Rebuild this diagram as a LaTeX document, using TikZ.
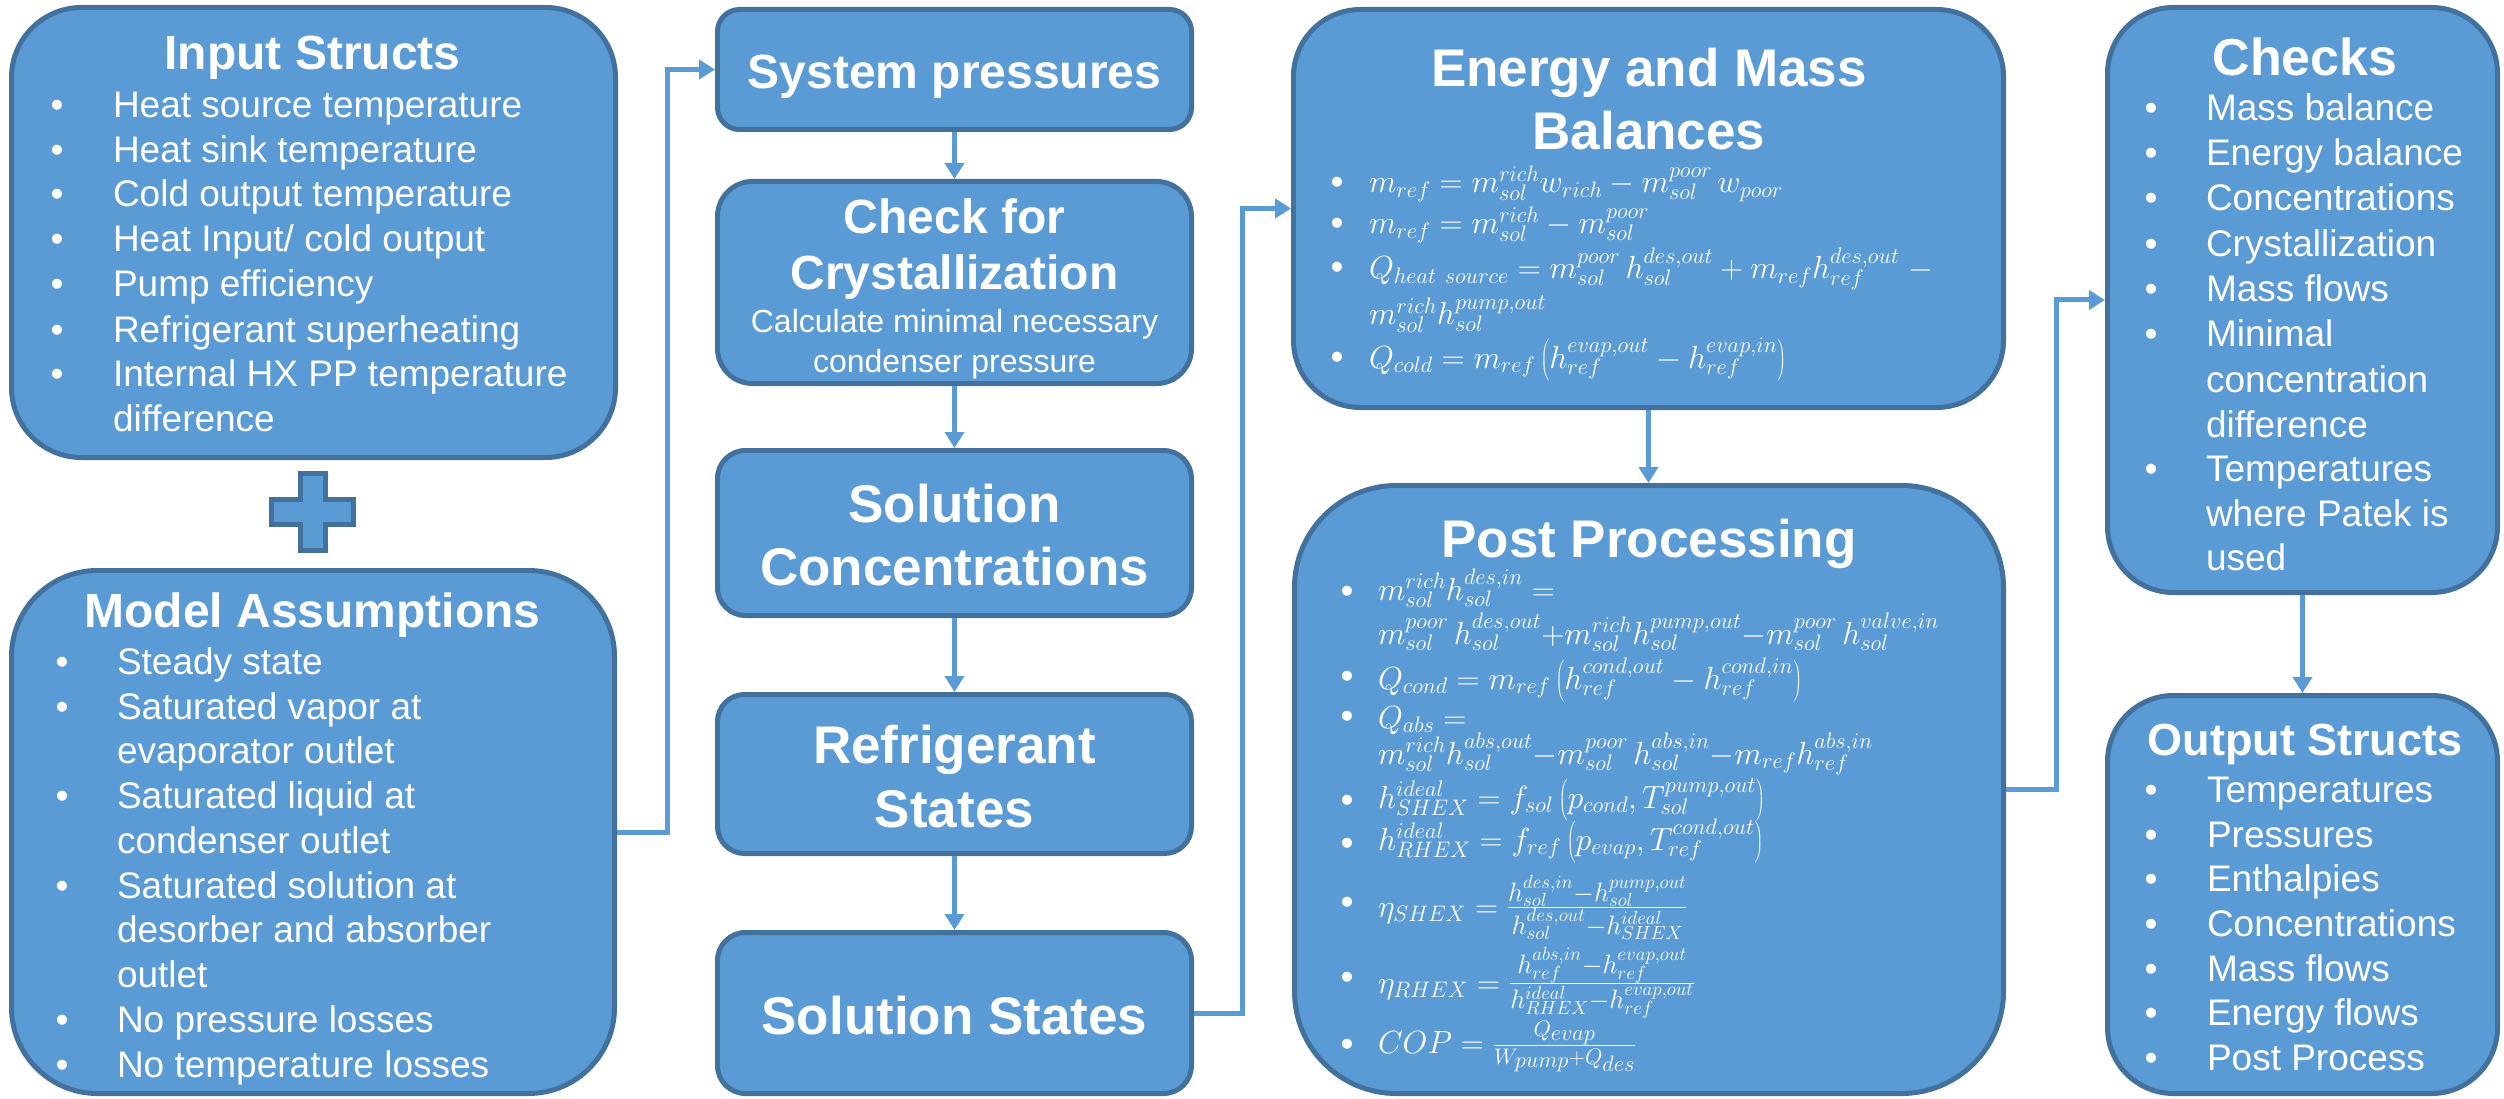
\RequirePackage{fix-cm}
\documentclass[tikz,border=0pt]{standalone}
\usepackage[no-math]{fontspec}
\setmainfont{Liberation Sans}
\usetikzlibrary{arrows.meta}
\definecolor{boxfill}{HTML}{5B9BD5}
\definecolor{boxline}{HTML}{41719C}
\definecolor{connblue}{HTML}{5B9BD5}
\newcommand{\fs}[1]{{\scriptstyle #1}}
\newcommand{\bigfrac}[2]{\mbox{\fontsize{38}{46}\selectfont$\frac{#1}{#2}$}}
\begin{document}
\begin{tikzpicture}[x=1pt,y=-1pt,
  box/.style={draw=boxline, fill=boxfill, line width=5pt, inner sep=0pt, outer sep=2.5pt, rectangle},
  txt/.style={text=white, inner sep=0pt, outer sep=0pt, anchor=base west, font=\fontsize{37}{44}\selectfont},
  bul/.style={text=white, inner sep=0pt, outer sep=0pt, anchor=base, font=\fontsize{37}{44}\selectfont},
  ttl/.style={text=white, inner sep=0pt, outer sep=0pt, anchor=base, font=\bfseries\fontsize{48}{58}\selectfont},
  bigttl/.style={text=white, inner sep=0pt, outer sep=0pt, anchor=base, font=\bfseries\fontsize{53}{64}\selectfont},
  subt/.style={text=white, inner sep=0pt, outer sep=0pt, anchor=base, font=\fontsize{32}{38}\selectfont},
  mth/.style={text=white, inner sep=0pt, outer sep=0pt, anchor=base west, font=\fontsize{32}{38}\selectfont},
  conn/.style={draw=connblue, line width=5pt, -{Triangle[length=16pt,width=19pt]}},
]
\fill[white] (0,0) rectangle (2504,1099);
\useasboundingbox (0,0) rectangle (2504,1099);

% ---------- boxes ----------
\node[box, minimum width=604pt, minimum height=450pt, rounded corners=70pt] (input) at (313.5,232.5) {};
\node[box, minimum width=603pt, minimum height=523pt, rounded corners=86pt] (model) at (313,832) {};
\node[box, minimum width=474pt, minimum height=120pt, rounded corners=22pt] (sys) at (954.5,69.5) {};
\node[box, minimum width=474pt, minimum height=202pt, rounded corners=35pt] (check) at (954.5,282.5) {};
\node[box, minimum width=474pt, minimum height=165pt, rounded corners=28pt] (conc) at (954.5,533) {};
\node[box, minimum width=474pt, minimum height=159pt, rounded corners=27pt] (refr) at (954.5,774) {};
\node[box, minimum width=474pt, minimum height=161pt, rounded corners=28pt] (sols) at (954.5,1013) {};
\node[box, minimum width=710pt, minimum height=398pt, rounded corners=67pt] (energy) at (1648.5,208.5) {};
\node[box, minimum width=709pt, minimum height=608pt, rounded corners=102pt] (post) at (1649,789.5) {};
\node[box, minimum width=390pt, minimum height=585pt, rounded corners=66pt] (checks) at (2302.5,300) {};
\node[box, minimum width=390pt, minimum height=398pt, rounded corners=66pt] (output) at (2302.5,894.5) {};

% ---------- plus sign ----------
\draw[draw=boxline, fill=boxfill, line width=5pt]
  (300.5,473.5) -- (325.5,473.5) -- (325.5,499.5) -- (353.5,499.5) -- (353.5,524.5)
  -- (325.5,524.5) -- (325.5,550.5) -- (300.5,550.5) -- (300.5,524.5) -- (271.5,524.5)
  -- (271.5,499.5) -- (300.5,499.5) -- cycle;

% ---------- connectors ----------
\draw[conn] (model.east) -- ++(50,0) |- (sys.west);
\draw[conn] (sys.south) -- (check.north);
\draw[conn] (check.south) -- (conc.north);
\draw[conn] (conc.south) -- (refr.north);
\draw[conn] (refr.south) -- (sols.north);
\draw[conn] (sols.east) -- ++(48.5,0) |- (energy.west);
\draw[conn] (energy.south) -- (energy.south |- post.north);
\draw[conn] (post.east) -- ++(50,0) |- (checks.west);
\draw[conn] (checks.south) -- (output.north);

% ---------- Input Structs ----------
\node[ttl] (inT) at (312.5,70) {Input Structs};
\node[bul] (inB1) at (57,118) {•}; \node[txt] (in1) at (113,118) {Heat source temperature};
\node[bul] (inB2) at (57,163) {•}; \node[txt] (in2) at (113,163) {Heat sink temperature};
\node[bul] (inB3) at (57,207) {•}; \node[txt] (in3) at (113,207) {Cold output temperature};
\node[bul] (inB4) at (57,252) {•}; \node[txt] (in4) at (113,252) {Heat Input/ cold output};
\node[bul] (inB5) at (57,297) {•}; \node[txt] (in5) at (113,297) {Pump efficiency};
\node[bul] (inB6) at (57,342) {•}; \node[txt] (in6) at (113,342) {Refrigerant superheating};
\node[bul] (inB7) at (57,386) {•}; \node[txt] (in7) at (113,386) {Internal HX PP temperature};
\node[txt] (in8) at (113,431) {difference};

% ---------- Model Assumptions ----------
\node[ttl] (maT) at (312.5,627) {Model Assumptions};
\node[bul] (maB1) at (62,674) {•}; \node[txt] (ma1) at (117,674) {Steady state};
\node[bul] (maB2) at (62,719) {•}; \node[txt] (ma2) at (117,719) {Saturated vapor at};
\node[txt] (ma3) at (117,763) {evaporator outlet};
\node[bul] (maB4) at (62,808) {•}; \node[txt] (ma4) at (117,808) {Saturated liquid at};
\node[txt] (ma5) at (117,853) {condenser outlet};
\node[bul] (maB6) at (62,898) {•}; \node[txt] (ma6) at (117,898) {Saturated solution at};
\node[txt] (ma7) at (117,942) {desorber and absorber};
\node[txt] (ma8) at (117,987) {outlet};
\node[bul] (maB9) at (62,1032) {•}; \node[txt] (ma9) at (117,1032) {No pressure losses};
\node[bul] (maB10) at (62,1077) {•}; \node[txt] (ma10) at (117,1077) {No temperature losses};

% ---------- central column ----------
\node[ttl] (sysT) at (954.5,89) {System pressures};
\node[ttl] (chT1) at (954.5,234) {Check for};
\node[ttl] (chT2) at (954.5,290) {Crystallization};
\node[subt] (chS1) at (954.5,333) {Calculate minimal necessary};
\node[subt] (chS2) at (954.5,372) {condenser pressure};
\node[bigttl] (coT1) at (954.5,522) {Solution};
\node[bigttl] (coT2) at (954.5,585) {Concentrations};
\node[bigttl] (reT1) at (954.5,763) {Refrigerant};
\node[bigttl] (reT2) at (954.5,827) {States};
\node[bigttl] (soT) at (954.5,1034) {Solution States};

% ---------- Energy and Mass Balances ----------
\node[bigttl] (enT1) at (1649,87) {Energy and Mass};
\node[bigttl] (enT2) at (1649,150) {Balances};
\node[bul] (enB1) at (1337,195) {•};
\node[mth] (en1) at (1369,193) {$m_{ref} = m_{sol}^{rich} w_{rich} - m_{sol}^{poor}\, w_{poor}$};
\node[bul] (enB2) at (1337,236) {•};
\node[mth] (en2) at (1369,234) {$m_{ref} = m_{sol}^{rich} - m_{sol}^{poor}$};
\node[bul] (enB3) at (1337,280) {•};
\node[mth] (en3) at (1369,279) {$Q_{heat\ source} = m_{sol}^{poor}\, h_{sol}^{des,out} + m_{ref} h_{ref}^{des,out}\ -$};
\node[mth] (en4) at (1369,325) {$m_{sol}^{rich} h_{sol}^{pump,out}$};
\node[bul] (enB5) at (1337,370) {•};
\node[mth] (en5) at (1369,368) {$Q_{cold} = m_{ref}\left(h_{ref}^{evap,out} - h_{ref}^{evap,in}\right)$};

% ---------- Post Processing ----------
\node[bigttl] (ppT) at (1649,557) {Post Processing};
\node[bul] (ppB1) at (1347,603) {•};
\node[mth] (pp1) at (1378,600) {$m_{sol}^{rich} h_{sol}^{des,in} ={}$};
\node[mth] (pp2) at (1378,644) {$m_{sol}^{poor}\, h_{sol}^{des,out} {+} m_{sol}^{rich} h_{sol}^{pump,out} {-} m_{sol}^{poor}\, h_{sol}^{valve,in}$};
\node[bul] (ppB3) at (1347,688) {•};
\node[mth] (pp3) at (1378,689) {$Q_{cond} = m_{ref}\left(h_{ref}^{cond,out} - h_{ref}^{cond,in}\right)$};
\node[bul] (ppB4) at (1347,728) {•};
\node[mth] (pp4) at (1378,728) {$Q_{abs} ={}$};
\node[mth] (pp5) at (1378,764) {$m_{sol}^{rich} h_{sol}^{abs,out} {-} m_{sol}^{poor}\, h_{sol}^{abs,in} {-} m_{ref} h_{ref}^{abs,in}$};
\node[bul] (ppB6) at (1347,812) {•};
\node[mth] (pp6) at (1378,808) {$h_{SHEX}^{ideal} = f_{sol}\left(p_{cond}, T_{sol}^{pump,out}\right)$};
\node[bul] (ppB7) at (1347,855) {•};
\node[mth] (pp7) at (1378,850) {$h_{RHEX}^{ideal} = f_{ref}\left(p_{evap}, T_{ref}^{cond,out}\right)$};
\node[bul] (ppB8) at (1347,914) {•};
\node[mth] (pp8) at (1378,917) {$\eta_{SHEX} = \bigfrac{h_{sol}^{des,in} - h_{sol}^{pump,out}}{h_{sol}^{des,out} - h_{SHEX}^{ideal}}$};
\node[bul] (ppB9) at (1347,989) {•};
\node[mth] (pp9) at (1378,993) {$\eta_{RHEX} = \bigfrac{h_{ref}^{abs,in} - h_{ref}^{evap,out}}{h_{RHEX}^{ideal} - h_{ref}^{evap,out}}$};
\node[bul] (ppB10) at (1347,1056) {•};
\node[mth] (pp10) at (1378,1053) {$COP = \frac{Q_{\fs{evap}}}{W_{\fs{pump}} + Q_{\fs{des}}}$};

% ---------- Checks ----------
\node[ttl, font=\bfseries\fontsize{52}{62}\selectfont] (ckT) at (2305,76) {Checks};
\node[bul] (ckB1) at (2151,121) {•}; \node[txt] (ck1) at (2206,121) {Mass balance};
\node[bul] (ckB2) at (2151,166) {•}; \node[txt] (ck2) at (2206,166) {Energy balance};
\node[bul] (ckB3) at (2151,211) {•}; \node[txt] (ck3) at (2206,211) {Concentrations};
\node[bul] (ckB4) at (2151,257) {•}; \node[txt] (ck4) at (2206,257) {Crystallization};
\node[bul] (ckB5) at (2151,302) {•}; \node[txt] (ck5) at (2206,302) {Mass flows};
\node[bul] (ckB6) at (2151,347) {•}; \node[txt] (ck6) at (2206,347) {Minimal};
\node[txt] (ck7) at (2206,392) {concentration};
\node[txt] (ck8) at (2206,437) {difference};
\node[bul] (ckB9) at (2151,481) {•}; \node[txt] (ck9) at (2206,481) {Temperatures};
\node[txt] (ck10) at (2206,526) {where Patek is};
\node[txt] (ck11) at (2206,570) {used};

% ---------- Output Structs ----------
\node[ttl, font=\bfseries\fontsize{45}{54}\selectfont] (outT) at (2305,755) {Output Structs};
\node[bul] (ouB1) at (2151,802) {•}; \node[txt] (ou1) at (2207,802) {Temperatures};
\node[bul] (ouB2) at (2151,847) {•}; \node[txt] (ou2) at (2207,847) {Pressures};
\node[bul] (ouB3) at (2151,891) {•}; \node[txt] (ou3) at (2207,891) {Enthalpies};
\node[bul] (ouB4) at (2151,936) {•}; \node[txt] (ou4) at (2207,936) {Concentrations};
\node[bul] (ouB5) at (2151,981) {•}; \node[txt] (ou5) at (2207,981) {Mass flows};
\node[bul] (ouB6) at (2151,1025) {•}; \node[txt] (ou6) at (2207,1025) {Energy flows};
\node[bul] (ouB7) at (2151,1070) {•}; \node[txt] (ou7) at (2207,1070) {Post Process};
\end{tikzpicture}
\end{document}
